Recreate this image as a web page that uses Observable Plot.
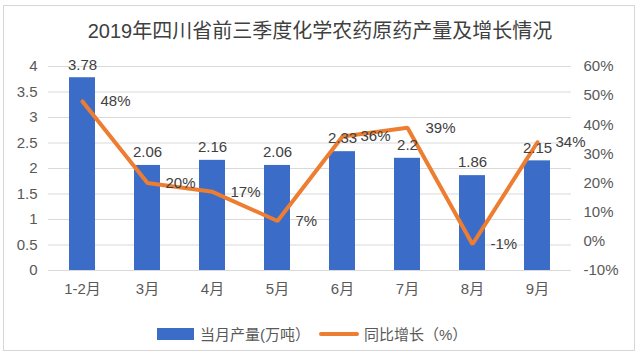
<!DOCTYPE html>
<html>
<head>
<meta charset="utf-8">
<script src="https://cdn.jsdelivr.net/npm/d3@7"></script>
<script src="https://cdn.jsdelivr.net/npm/@observablehq/plot@0.6"></script>
<style>
  html, body { margin: 0; padding: 0; background: #fff; }
  #wrap { position: relative; width: 640px; height: 357px; overflow: hidden;
    font-family: "Liberation Sans", "Noto Sans CJK SC", sans-serif; }
  #card { position: absolute; left: 3px; top: 5px; width: 632px; height: 346px; border: 1px solid #d6d6d6; box-sizing: border-box; }
  #title { position: absolute; left: 0; width: 640px; top: 15px; text-align: center; font-size: 20px; color: #404040; }
  #chart { position: absolute; left: 0; top: 0; }
  #legend { position: absolute; top: 323px; left: 157px; font-size: 15px; color: #595959; display: flex; align-items: center; white-space: nowrap; }
  .sw-bar { display: inline-block; width: 37px; height: 12px; background: #3B6CC8; margin-right: 6px; }
  .sw-line { display: inline-block; width: 40px; height: 4px; background: #ED7D31; margin: 0 5px 0 9px; border-radius: 2px; }
</style>
</head>
<body>
<div id="wrap">
  <div id="card"></div>
  <div id="chart"></div>
  <div id="title">2019年四川省前三季度化学农药原药产量及增长情况</div>
  <div id="legend"><span class="sw-bar"></span><span>当月产量(万吨）</span><span class="sw-line"></span><span>同比增长（%）</span></div>
</div>
<script>
const months = ["1-2月", "3月", "4月", "5月", "6月", "7月", "8月", "9月"];
const output = [3.78, 2.06, 2.16, 2.06, 2.33, 2.2, 1.86, 2.15];
const growth = [48, 20, 17, 7, 36, 39, -1, 34];
const leftTicks = [0, 0.5, 1, 1.5, 2, 2.5, 3, 3.5, 4];
const rightTicks = [-10, 0, 10, 20, 30, 40, 50, 60];

// right axis (-10%..60%) mapped onto left scale (0..4)
const toLeft = p => (p + 10) * 4 / 70;
const toRight = v => Math.round(v * 70 / 4 - 10);

const data = months.map((m, i) => ({ month: m, output: output[i], growth: growth[i], gy: toLeft(growth[i]) }));

const chart = Plot.plot({
  width: 640,
  height: 357,
  marginTop: 66,
  marginBottom: 87,
  marginLeft: 48,
  marginRight: 69,
  style: { fontFamily: '"Liberation Sans", "Noto Sans CJK SC", sans-serif', fontSize: "15px", background: "transparent", overflow: "visible" },
  x: { domain: months, paddingInner: 0.6, paddingOuter: 0.3, label: null },
  y: { domain: [0, 4], label: null },
  marks: [
    Plot.ruleY(leftTicks, { stroke: "#d9d9d9", strokeWidth: 1 }),
    Plot.axisY(leftTicks, { anchor: "left", tickSize: 0, tickPadding: 11, tickFormat: d => String(d), fill: "#595959", fontSize: 15, label: null }),
    Plot.axisY(rightTicks.map(toLeft), { anchor: "right", tickSize: 0, tickPadding: 12, tickFormat: d => toRight(d) + "%", fill: "#595959", fontSize: 15, textAnchor: "start", label: null }),
    Plot.axisX({ tickSize: 0, tickPadding: 13, fill: "#595959", fontSize: 15, label: null }),
    Plot.barY(data, { x: "month", y: "output", fill: "#3B6CC8" }),
    Plot.line(data, { x: "month", y: "gy", stroke: "#ED7D31", strokeWidth: 4, strokeLinejoin: "miter" }),
    Plot.text(data, { x: "month", y: "output", text: d => String(d.output), dy: -13, fill: "#404040", fontSize: 15 }),
    Plot.text(data, { x: "month", y: "gy", text: d => d.growth + "%", dx: 18, textAnchor: "start", fill: "#404040", fontSize: 15 })
  ]
});
document.getElementById("chart").appendChild(chart);
</script>
</body>
</html>
